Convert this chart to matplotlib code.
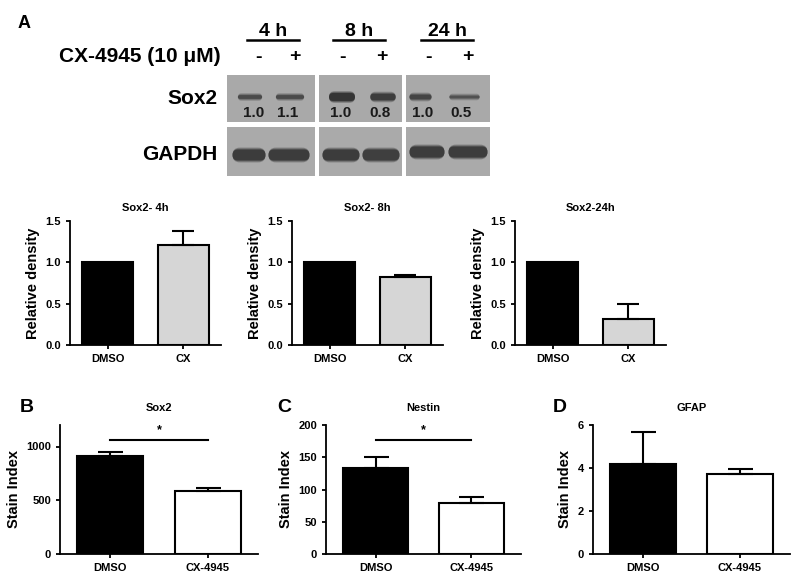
import matplotlib.pyplot as plt
from matplotlib.patches import Rectangle, FancyBboxPatch

plt.rcParams['font.family'] = ['Liberation Sans', 'DejaVu Sans']
plt.rcParams['font.weight'] = 'bold'

# --- data ---
groups_a = ['DMSO', 'CX']
titles_a = ['Sox2- 4h', 'Sox2- 8h', 'Sox2-24h']
dens_mean = [[1.0, 1.21], [1.0, 0.826], [1.0, 0.31]]
dens_err = [[0.0, 0.17], [0.0, 0.015], [0.0, 0.19]]

groups_b = ['DMSO', 'CX-4945']
titles_b = ['Sox2', 'Nestin', 'GFAP']
stain_mean = [[912, 584], [133.6, 79], [4.19, 3.71]]
stain_err = [[41, 28], [16.5, 9], [1.5, 0.25]]
stain_ylim = [1200, 200, 6]
stain_ticks = [[0, 500, 1000], [0, 50, 100, 150, 200], [0, 2, 4, 6]]
stain_sig = [True, True, False]
panel_letters = ['B', 'C', 'D']

times = ['4 h', '8 h', '24 h']
treat = ['-', '+']
sox2_ratio = [['1.0', '1.1'], ['1.0', '0.8'], ['1.0', '0.5']]
sox2_band = [[0.4, 0.4], [1.0, 0.8], [0.55, 0.25]]
gapdh_band = [[1.0, 1.0], [1.0, 0.95], [1.0, 1.0]]

W, H = 800, 586
fig = plt.figure(figsize=(8, 5.86), dpi=100)

# overlay axes in pixel coordinates for blot + panel letters
ov = fig.add_axes([0, 0, 1, 1])
ov.set_xlim(0, W)
ov.set_ylim(H, 0)
ov.axis('off')


def band(x0, width, yc, h, strength, color='#1a1a1a'):
    # soft-edged band: stacked capsules
    for grow, a in [(4, 0.25), (2, 0.35), (0, 0.6)]:
        hh = max(h + grow - 2, 0.5)
        ww = width + grow
        ov.add_patch(FancyBboxPatch((x0 - grow / 2 + hh / 2, yc - hh / 2), ww - hh, hh,
                                    boxstyle='round,pad=0,rounding_size=%f' % (hh / 2),
                                    facecolor=color, edgecolor='none',
                                    alpha=a * strength))


ov.text(18, 24, 'A', fontsize=13, fontweight='bold', va='center')
ov.text(221, 57, 'CX-4945 (10 \u03bcM)', fontsize=15, ha='right', va='center')
ov.text(218, 99, 'Sox2', fontsize=15, ha='right', va='center')
ov.text(217, 155, 'GAPDH', fontsize=15, ha='right', va='center')

col_l = [227, 319, 406]
col_r = [315, 402, 490]
time_x = [273, 359, 447]
sign_x = [[258, 295], [342, 382], [428, 468]]
lane_l = [[227, 263], [317, 357], [404, 443]]
lane_w = [[44, 52], [48, 48], [46, 50]]
sox_l = [[236, 274], [325, 367], [407, 448]]
sox_w = [[28, 32], [34, 32], [27, 33]]
num_x = [[254, 288], [341, 380], [423, 461]]
for i in range(3):
    ov.text(time_x[i], 31, times[i], fontsize=14, ha='center', va='center')
    ov.plot([time_x[i] - 26, time_x[i] + 26], [40, 40], color='black', lw=1.8)
    # gel backgrounds
    ov.add_patch(Rectangle((col_l[i], 75), col_r[i] - col_l[i], 47,
                           facecolor='#a9a9a9', edgecolor='none'))
    ov.add_patch(Rectangle((col_l[i], 127), col_r[i] - col_l[i], 49,
                           facecolor='#aaaaaa', edgecolor='none'))
    for j in range(2):
        ov.text(sign_x[i][j], 57, treat[j], fontsize=14, ha='center', va='center')
        s = sox2_band[i][j]
        band(sox_l[i][j], sox_w[i][j], 97, 3 + 7 * s, 0.55 + 0.45 * s)
        gy = 155 if i < 2 else 152
        band(lane_l[i][j], lane_w[i][j], gy, 13, gapdh_band[i][j], color='#222222')
        ov.text(num_x[i][j], 113, sox2_ratio[i][j], fontsize=11,
                ha='center', va='center', color='#1a1a1a')

# hide band overhang between the gel panels
for i in range(3):
    left_gap = 6 if i == 0 else col_l[i] - col_r[i - 1]
    ov.add_patch(Rectangle((col_l[i] - left_gap, 126), left_gap, 52,
                           facecolor='white', edgecolor='none'))
ov.add_patch(Rectangle((col_r[2], 126), 8, 52, facecolor='white', edgecolor='none'))

# --- row A: relative density ---
a_left = [70, 292, 515]
for i in range(3):
    ax = fig.add_axes([a_left[i] / W, (H - 345) / H, 151 / W, 124 / H])
    ax.bar([0, 1], dens_mean[i], width=0.67, color=['black', '#d6d6d6'],
           edgecolor='black', linewidth=1.5)
    ax.errorbar([1], [dens_mean[i][1]], yerr=[[0], [dens_err[i][1]]], fmt='none',
                ecolor='black', elinewidth=1.5, capsize=8, capthick=1.5)
    ax.set_xlim(-0.5, 1.5)
    ax.set_ylim(0, 1.5)
    ax.set_yticks([0, 0.5, 1.0, 1.5])
    ax.set_yticklabels(['0.0', '0.5', '1.0', '1.5'])
    ax.set_xticks([0, 1])
    ax.set_xticklabels(groups_a)
    ax.set_title(titles_a[i], fontsize=8, fontweight='bold', pad=7)
    ax.set_ylabel('Relative density', fontsize=10.5, fontweight='bold')
    for s in ['top', 'right']:
        ax.spines[s].set_visible(False)
    for s in ['left', 'bottom']:
        ax.spines[s].set_linewidth(1.3)
    ax.tick_params(labelsize=8, width=1.3, length=3)

# --- row B-D: stain index ---
b_left = [60, 326, 593]
b_width = [198, 195, 197]
letter_x = [20, 277, 553]
for i in range(3):
    ax = fig.add_axes([b_left[i] / W, (H - 554) / H, b_width[i] / W, 129 / H])
    ax.bar([0, 1], stain_mean[i], width=0.68, color=['black', 'white'],
           edgecolor='black', linewidth=1.5)
    ax.errorbar([0, 1], stain_mean[i], yerr=[[0, 0], stain_err[i]], fmt='none',
                ecolor='black', elinewidth=1.5, capsize=9, capthick=1.5)
    ax.set_xlim(-0.52, 1.52)
    ax.set_ylim(0, stain_ylim[i])
    ax.set_yticks(stain_ticks[i])
    ax.set_xticks([0, 1])
    ax.set_xticklabels(groups_b)
    ax.set_title(titles_b[i], fontsize=8, fontweight='bold', pad=10)
    ax.set_ylabel('Stain Index', fontsize=10.5, fontweight='bold')
    if stain_sig[i]:
        top = stain_ylim[i] * 0.88
        ax.plot([0, 1], [top, top], color='black', lw=1.5)
        ax.text(0.5, top + stain_ylim[i] * 0.03, '*', ha='center', va='bottom', fontsize=9)
    for s in ['top', 'right']:
        ax.spines[s].set_visible(False)
    for s in ['left', 'bottom']:
        ax.spines[s].set_linewidth(1.3)
    ax.tick_params(labelsize=8, width=1.3, length=3)
    ov.text(letter_x[i], 408, panel_letters[i], fontsize=14, fontweight='bold', va='center')

fig.savefig('out.png', dpi=100)
